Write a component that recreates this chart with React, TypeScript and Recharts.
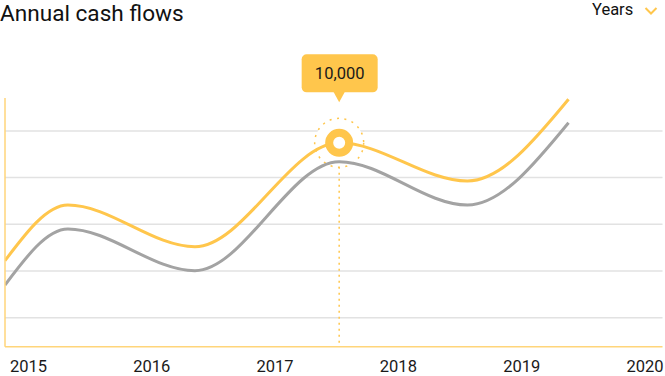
import React from "react";
import { LineChart, Line, XAxis, YAxis, ReferenceLine, ReferenceDot } from "recharts";

const YEAR_TICKS = [2015, 2016, 2017, 2018, 2019, 2020];
const POINT_YEARS = [2014.81, 2015.32, 2016.35, 2017.52, 2018.56, 2019.38];
const INFLOW = [4220, 6950, 4905, 10000, 8130, 12135];
const OUTFLOW = [3026, 5773, 3728, 9074, 6950, 10987];
const GRID_VALUES = [1425, 3715, 6005, 8295, 10585];
const HIGHLIGHT_INDEX = 3;

const YELLOW = "#FFC64C";
const GRAY = "#A3A3A3";

const data = POINT_YEARS.map((year, i) => ({ year, inflow: INFLOW[i], outflow: OUTFLOW[i] }));
const highlight = data[HIGHLIGHT_INDEX];

const fmt = (v: number) => v.toLocaleString("en-US");

// ring marker plus the callout box above it
const HighlightShape = (props: any) => {
  const { cx, cy } = props;
  if (cx == null || cy == null) return null;
  const top = cy - 88.5;
  return (
    <g>
      <circle cx={cx} cy={cy} r={10} fill="#fff" stroke={YELLOW} strokeWidth={8} />
      <rect x={cx - 37.5} y={top} width={76} height={38} rx={5} fill={YELLOW} />
      <path d={`M${cx - 6},${top + 37} L${cx + 6},${top + 37} L${cx},${top + 48} Z`} fill={YELLOW} />
      <text x={cx + 0.5} y={top + 25} textAnchor="middle" fontSize={16.5} fill="#1a1a1a">
        {fmt(highlight.inflow)}
      </text>
    </g>
  );
};

export default function App() {
  return (
    <div style={{ position: "absolute", left: 0, top: 0, width: 665, height: 376, fontFamily: "Roboto, sans-serif", background: "#fff" }}>
      <div style={{ position: "absolute", left: 0, top: 1, fontSize: 22.6, lineHeight: "26px", color: "#111" }}>
        Annual cash flows
      </div>
      <div style={{ position: "absolute", left: 592, top: 0, fontSize: 16.5, lineHeight: "20px", color: "#111" }}>
        Years
      </div>
      <svg style={{ position: "absolute", left: 644, top: 6 }} width={14} height={10}>
        <polyline points="1.5,2 7,7.5 12.5,2" fill="none" stroke={YELLOW} strokeWidth={2} />
      </svg>

      <div style={{ position: "absolute", left: 0, top: 0 }}>
        <LineChart width={665} height={376} data={data} margin={{ top: 98, right: 2.5, bottom: 0, left: 4 }}>
          {GRID_VALUES.map((v) => (
            <ReferenceLine key={v} y={v} stroke="#E2E2E2" strokeWidth={1.5} zIndex={10} />
          ))}
          <XAxis
            type="number"
            dataKey="year"
            domain={[2014.81, 2020.142]}
            ticks={YEAR_TICKS}
            interval={0}
            allowDataOverflow
            height={29.3}
            tickLine={false}
            tickSize={11.5}
            tickMargin={2}
            axisLine={{ stroke: "#FFD57A", strokeWidth: 1.5 }}
            tick={{ fill: "#1a1a1a", fontSize: 16.5 }}
          />
          <YAxis
            width={1}
            domain={[0, 12200]}
            ticks={GRID_VALUES}
            allowDataOverflow
            tick={false}
            tickLine={false}
            axisLine={{ stroke: "#FFD57A", strokeWidth: 1.5 }}
          />
          <ReferenceLine
            segment={[{ x: highlight.year, y: highlight.inflow }, { x: highlight.year, y: 0 }]}
            stroke={YELLOW}
            strokeWidth={1.5}
            strokeDasharray="2 4"
            zIndex={50}
          />
          <ReferenceDot
            x={highlight.year}
            y={highlight.inflow}
            r={24.5}
            fill="#fff"
            stroke={YELLOW}
            strokeWidth={1.5}
            strokeDasharray="2 5.5"
            zIndex={60}
          />
          <Line type="monotone" dataKey="outflow" stroke={GRAY} strokeWidth={3} dot={false} activeDot={false} isAnimationActive={false} />
          <Line type="monotone" dataKey="inflow" stroke={YELLOW} strokeWidth={3} dot={false} activeDot={false} isAnimationActive={false} />
          <ReferenceDot x={highlight.year} y={highlight.inflow} r={14} shape={HighlightShape} zIndex={1300} />
        </LineChart>
      </div>
    </div>
  );
}
